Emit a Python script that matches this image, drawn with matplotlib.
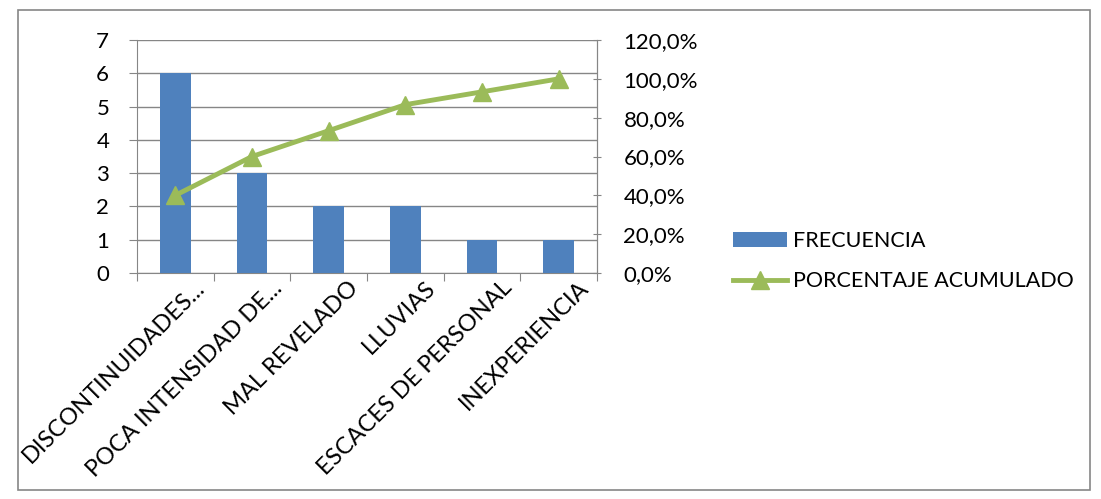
import numpy as np
import matplotlib.pyplot as plt
from matplotlib.patches import Rectangle
from matplotlib.ticker import FuncFormatter

categorias = ['DISCONTINUIDADES...', 'POCA INTENSIDAD DE...', 'MAL REVELADO',
              'LLUVIAS', 'ESCACES DE PERSONAL', 'INEXPERIENCIA']
frecuencia = [6, 3, 2, 2, 1, 1]
porcentaje_acumulado = [40.0, 60.0, 73.3, 86.7, 93.3, 100.0]

azul = '#4F81BD'
verde = '#9BBB59'
gris = '#868686'

plt.rcParams['font.family'] = ['Lato', 'DejaVu Sans']
fs = 16

fig = plt.figure(figsize=(11.01, 4.99), dpi=100)
fig.patches.append(Rectangle((18 / 1101, 9 / 499), 1072 / 1101, 480 / 499,
                             transform=fig.transFigure, fill=False,
                             edgecolor=gris, lw=1.2))

ax = fig.add_axes([137 / 1101, 1 - 273 / 499, 460 / 1101, 233 / 499])
x = np.arange(len(categorias))
bars = ax.bar(x, frecuencia, width=0.4, color=azul, zorder=3, label='FRECUENCIA')
ax.set_xlim(-0.5, len(categorias) - 0.5)
ax.set_ylim(0, 7)
ax.set_yticks(range(0, 8))
ax.yaxis.grid(True, color=gris, lw=1, zorder=0)
ax.set_axisbelow(True)
ax.spines['top'].set_visible(False)
for s in ['left', 'bottom', 'right']:
    ax.spines[s].set_color(gris)
ax.tick_params(axis='y', length=6, color=gris, labelsize=fs, pad=14, direction='out')
ax.set_xticks(np.arange(-0.5, len(categorias), 1.0))
ax.set_xticklabels([])
ax.tick_params(axis='x', length=6, color=gris, direction='out')
for i, c in enumerate(categorias):
    ax.annotate(c, xy=(i + 0.25, 0), xycoords=('data', 'axes fraction'),
                xytext=(0, -3), textcoords='offset points',
                rotation=45, ha='right', va='top', rotation_mode='anchor',
                fontsize=fs + 1)

ax2 = ax.twinx()
line, = ax2.plot(x, porcentaje_acumulado, color=verde, lw=3.5, marker='^',
                 markersize=13, zorder=4, label='PORCENTAJE ACUMULADO')
ax2.set_ylim(0, 120)
ax2.set_yticks(range(0, 121, 20))
ax2.yaxis.set_major_formatter(FuncFormatter(lambda v, p: f'{v:.1f}%'.replace('.', ',')))
ax2.tick_params(axis='y', length=6, color=gris, labelsize=fs, pad=16, direction='inout')
for s in ['top', 'left', 'bottom']:
    ax2.spines[s].set_visible(False)
ax2.spines['right'].set_color(gris)

fig.legend([bars, line], ['FRECUENCIA', 'PORCENTAJE ACUMULADO'],
           loc='upper left', bbox_to_anchor=(722 / 1101, 1 - 220 / 499),
           frameon=False, fontsize=15.5, handlelength=2.5, labelspacing=0.95,
           handletextpad=0.3, borderpad=0)

fig.savefig('out.png', dpi=100, facecolor='white')
